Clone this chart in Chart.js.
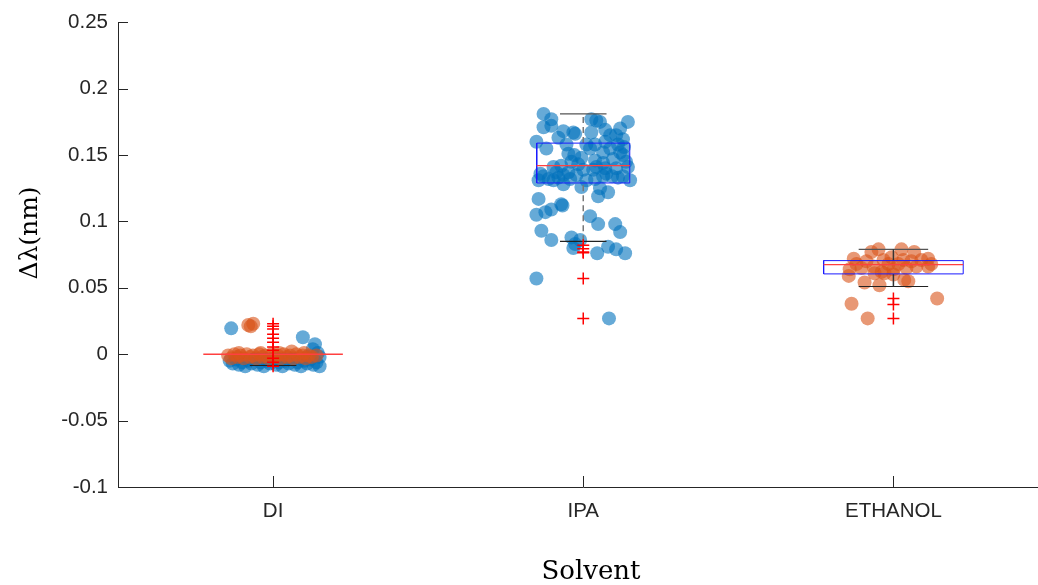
<!DOCTYPE html>
<html>
<head>
<meta charset="utf-8">
<script src="https://cdn.jsdelivr.net/npm/chart.js@4/dist/chart.umd.min.js"></script>
<style>
  html, body { margin: 0; padding: 0; background: #ffffff; overflow: hidden; }
  #wrap { position: absolute; left: 0; top: 0; width: 1056px; height: 585px; }
</style>
</head>
<body>
<div id="wrap"><canvas id="chart" width="1056" height="585"></canvas></div>
<script>
// Solvents along the x axis (category n sits at x = n + 1)
const categories = ['DI', 'IPA', 'ETHANOL'];

// y axis ticks
const yTickValues = [-0.1, -0.05, 0, 0.05, 0.1, 0.15, 0.2, 0.25];
const yTickLabels = ['-0.1', '-0.05', '0', '0.05', '0.1', '0.15', '0.2', '0.25'];

// Box statistics per solvent (nm)
const q1 = [0, 0.129, 0.0605];
const medians = [0, 0.142, 0.0675];
const q3 = [0, 0.159, 0.0705];
const whiskerLow = [-0.0085, 0.085, 0.051];
const whiskerHigh = [0, 0.181, 0.079];

// Outliers per solvent (nm)
const outliersDI = [0.023, 0.021, 0.019, 0.015, 0.012, 0.009, 0.0055, 0.003, -0.003, -0.006, -0.009];
const outliersIPA = [0.082, 0.0795, 0.077, 0.0765, 0.057, 0.027];
const outliersETH = [0.042, 0.0375, 0.027];

// Measurements: [jitter offset from the category, shift in nm]
const diBlue = [
  [-0.135, 0.0195], [-0.14, -0.005], [-0.13, -0.007], [-0.12, -0.004], [-0.11, -0.008],
  [-0.1, -0.006], [-0.09, -0.009], [-0.08, -0.005], [-0.07, -0.007], [-0.06, -0.004],
  [-0.05, -0.008], [-0.04, -0.006], [-0.03, -0.009], [-0.02, -0.005], [-0.01, -0.007],
  [0.0, -0.004], [0.01, -0.008], [0.02, -0.006], [0.03, -0.009], [0.04, -0.005],
  [0.05, -0.007], [0.06, -0.004], [0.07, -0.008], [0.08, -0.006], [0.09, -0.009],
  [0.1, -0.005], [0.11, -0.007], [0.12, -0.004], [0.13, -0.008], [0.14, -0.006],
  [0.15, -0.009], [0.096, 0.0128], [0.135, 0.0075], [0.128, 0.0037], [0.144, 0.001],
  [0.15, -0.002], [0.11, -0.002]
];
const diOrange = [
  [-0.145, -0.001], [-0.135, -0.003], [-0.125, 0.0], [-0.115, -0.002], [-0.105, -0.001],
  [-0.095, -0.003], [-0.085, 0.0], [-0.075, -0.002], [-0.065, -0.001], [-0.055, -0.003],
  [-0.045, 0.0], [-0.035, -0.002], [-0.025, -0.001], [-0.015, -0.003], [-0.005, 0.0],
  [0.005, -0.002], [0.015, -0.001], [0.025, -0.003], [0.035, 0.0], [0.045, -0.002],
  [0.055, -0.001], [0.065, -0.003], [0.075, 0.0], [0.085, -0.002], [0.095, -0.001],
  [0.105, -0.003], [0.115, -0.001], [0.125, -0.002], [0.14, -0.001], [-0.11, 0.001],
  [-0.04, 0.001], [0.02, 0.001], [0.06, 0.002], [0.1, 0.001],
  [-0.08, 0.022], [-0.064, 0.023], [-0.072, 0.021]
];
const ipaBlue = [
  [-0.128, 0.181], [-0.103, 0.177], [0.026, 0.177], [0.054, 0.175], [0.144, 0.175],
  [-0.128, 0.171], [-0.103, 0.172], [-0.064, 0.168], [-0.026, 0.166], [0.026, 0.167],
  [0.071, 0.169], [0.119, 0.170], [-0.151, 0.160], [-0.119, 0.155], [-0.054, 0.158],
  [-0.048, 0.151], [-0.029, 0.150], [0.038, 0.158], [0.022, 0.155], [0.064, 0.152],
  [0.087, 0.155], [0.106, 0.165], [0.128, 0.162], [0.096, 0.147], [0.128, 0.150],
  [0.138, 0.145], [-0.016, 0.143], [0.038, 0.146], [0.0, 0.139], [0.032, 0.139],
  [0.071, 0.140], [0.074, 0.136], [0.106, 0.140], [0.128, 0.134], [-0.138, 0.136],
  [-0.128, 0.134], [-0.096, 0.141], [-0.087, 0.137], [-0.064, 0.135], [-0.042, 0.132],
  [-0.022, 0.135], [-0.112, 0.132], [-0.144, 0.131], [-0.064, 0.128], [0.038, 0.132],
  [0.064, 0.134], [0.054, 0.125], [0.048, 0.119], [-0.144, 0.117], [-0.071, 0.113],
  [-0.151, 0.105], [-0.122, 0.107], [-0.103, 0.109], [-0.067, 0.112], [-0.135, 0.093],
  [-0.103, 0.086], [-0.038, 0.088], [-0.026, 0.083], [-0.032, 0.080], [-0.010, 0.086],
  [0.022, 0.104], [0.048, 0.098], [0.103, 0.098], [0.119, 0.092], [0.080, 0.081],
  [0.106, 0.079], [0.135, 0.076], [0.045, 0.076], [-0.151, 0.057], [0.083, 0.027],
  [-0.080, 0.163], [0.010, 0.158], [0.131, 0.156], [0.087, 0.165], [0.112, 0.158],
  [-0.096, 0.131], [-0.080, 0.133], [-0.048, 0.137], [0.010, 0.131], [0.093, 0.134],
  [0.112, 0.133], [0.042, 0.141], [-0.038, 0.145], [0.064, 0.144], [-0.006, 0.148],
  [0.119, 0.152], [0.144, 0.141], [0.071, 0.160], [-0.032, 0.167], [0.042, 0.176],
  [-0.071, 0.142], [-0.006, 0.126], [0.080, 0.122], [0.151, 0.131]
];
const ethOrange = [
  [-0.128, 0.072], [-0.071, 0.077], [-0.048, 0.079], [-0.032, 0.071], [-0.087, 0.070],
  [-0.064, 0.066], [-0.103, 0.065], [-0.141, 0.064], [-0.144, 0.059], [-0.038, 0.062],
  [-0.016, 0.068], [0.0, 0.064], [0.0, 0.060], [0.026, 0.079], [0.032, 0.071],
  [0.016, 0.068], [0.042, 0.065], [0.067, 0.077], [0.090, 0.071], [0.112, 0.072],
  [0.112, 0.066], [0.035, 0.056], [0.048, 0.055], [-0.093, 0.054], [-0.045, 0.052],
  [-0.135, 0.038], [-0.083, 0.027], [0.141, 0.042], [-0.029, 0.061], [-0.061, 0.061],
  [0.058, 0.070], [-0.119, 0.068], [-0.006, 0.073], [0.074, 0.066], [0.122, 0.068]
];

// Drawing styles
const BLUE = 'rgba(0, 114, 189, 0.6)';
const ORANGE = 'rgba(217, 83, 25, 0.6)';
const boxHalfWidth = [0.225, 0.15, 0.225];
const capHalfWidth = [0.075, 0.075, 0.112];
const whiskerDash = [[], [6, 4], []];
const whiskerColor = ['#333333', '#777777', '#333333'];

function pts(list, cat) {
  return list.map(p => ({ x: cat + 1 + p[0], y: p[1] }));
}

function scatterSet(list, cat, color, order) {
  return {
    data: pts(list, cat), showLine: false, order: order,
    pointRadius: 7, pointBorderWidth: 0, pointBackgroundColor: color,
    pointBorderColor: color
  };
}

function lineSet(points, color, width, dash, order) {
  return {
    data: points.map(p => ({ x: p[0], y: p[1] })), showLine: true, order: order,
    pointRadius: 0, borderColor: color, borderWidth: width, borderDash: dash,
    fill: false, tension: 0
  };
}

const datasets = [];
datasets.push(scatterSet(diBlue, 0, BLUE, 6));
datasets.push(scatterSet(diOrange, 0, ORANGE, 5));
datasets.push(scatterSet(ipaBlue, 1, BLUE, 6));
datasets.push(scatterSet(ethOrange, 2, ORANGE, 5));

categories.forEach((name, i) => {
  const c = i + 1, bw = boxHalfWidth[i], cw = capHalfWidth[i];
  // whisker stem and caps
  datasets.push(lineSet([[c, whiskerLow[i]], [c, q1[i]]], whiskerColor[i], 1.5, whiskerDash[i], 4));
  datasets.push(lineSet([[c, q3[i]], [c, whiskerHigh[i]]], whiskerColor[i], 1.5, whiskerDash[i], 4));
  datasets.push(lineSet([[c - cw, whiskerLow[i]], [c + cw, whiskerLow[i]]], '#222222', 1.2, [], 4));
  datasets.push(lineSet([[c - cw, whiskerHigh[i]], [c + cw, whiskerHigh[i]]], '#555555', 1.2, [], 4));
  // box (a flat box collapses onto its median line, so only non-degenerate boxes are outlined)
  if (q3[i] > q1[i]) {
    datasets.push(lineSet([[c - bw, q1[i]], [c + bw, q1[i]], [c + bw, q3[i]], [c - bw, q3[i]], [c - bw, q1[i]]],
      '#1a1aff', 1, [], 3));
  }
  // median
  datasets.push(lineSet([[c - bw, medians[i]], [c + bw, medians[i]]], '#ff4040', 1.3, [], 2));
});

// outliers
[outliersDI, outliersIPA, outliersETH].forEach((vals, i) => {
  datasets.push({
    data: vals.map(v => ({ x: i + 1, y: v })), showLine: false, order: 1,
    pointStyle: 'cross', pointRadius: 6, pointBorderColor: '#ff0000',
    pointBackgroundColor: '#ff0000', pointBorderWidth: 1.5
  });
});

const AXIS = '#262626';

// tick marks pointing into the plot, plus the two axis titles
const axisDecor = {
  id: 'axisDecor',
  afterDraw(chart) {
    const ctx = chart.ctx, area = chart.chartArea;
    const xs = chart.scales.x, ys = chart.scales.y;
    ctx.save();
    ctx.strokeStyle = AXIS;
    ctx.lineWidth = 1;
    ctx.beginPath();
    ys.ticks.forEach(t => {
      const py = Math.round(ys.getPixelForValue(t.value)) + 0.5;
      ctx.moveTo(area.left, py);
      ctx.lineTo(area.left + 10, py);
    });
    xs.ticks.forEach(t => {
      const px = Math.round(xs.getPixelForValue(t.value)) + 0.5;
      ctx.moveTo(px, area.bottom);
      ctx.lineTo(px, area.bottom - 11);
    });
    ctx.stroke();

    ctx.fillStyle = '#000000';
    ctx.textAlign = 'center';
    ctx.textBaseline = 'middle';
    ctx.font = '26px "DejaVu Serif"';
    ctx.fillText('Solvent', 591, 572);
    ctx.translate(30, 233);
    ctx.rotate(-Math.PI / 2);
    ctx.font = '25px "DejaVu Serif"';
    ctx.fillText('\u0394\u03bb(nm)', 0, 0);
    ctx.restore();
  }
};

new Chart(document.getElementById('chart'), {
  type: 'scatter',
  data: { datasets: datasets },
  plugins: [axisDecor],
  options: {
    responsive: false,
    animation: false,
    events: [],
    layout: { padding: { top: 20, right: 2, left: 0, bottom: 0 } },
    plugins: { legend: { display: false }, tooltip: { enabled: false } },
    scales: {
      x: {
        type: 'linear', min: 0.5, max: 3.5,
        grid: { display: false, drawTicks: false },
        border: { display: true, color: AXIS, width: 1 },
        afterBuildTicks: s => { s.ticks = categories.map((_, i) => ({ value: i + 1 })); },
        afterFit: s => { s.height = 98; },
        ticks: {
          padding: 12, color: AXIS,
          font: { family: '"Liberation Sans", Arial, sans-serif', size: 20.5 },
          callback: (v) => categories[Math.round(v) - 1]
        }
      },
      y: {
        type: 'linear', min: -0.1, max: 0.25,
        grid: { display: false, drawTicks: false },
        border: { display: true, color: AXIS, width: 1 },
        afterBuildTicks: s => { s.ticks = yTickValues.map(v => ({ value: v })); },
        afterFit: s => { s.width = 118; },
        ticks: {
          padding: 10, color: AXIS,
          font: { family: '"Liberation Sans", Arial, sans-serif', size: 20.5 },
          callback: (v, idx) => yTickLabels[idx]
        }
      }
    }
  }
});
</script>
</body>
</html>
